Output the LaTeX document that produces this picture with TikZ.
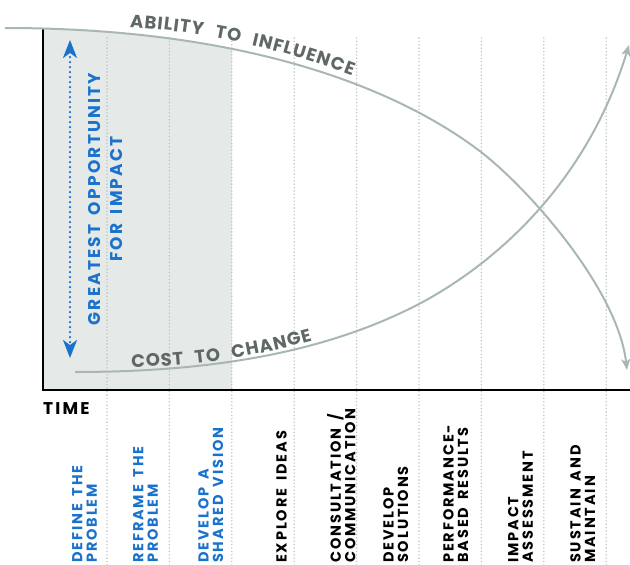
\documentclass[tikz,border=0pt]{standalone}
\usepackage{fontspec}
\setmainfont{Poppins}[LetterSpace=13,WordSpace=1.6]
\usetikzlibrary{positioning,arrows.meta,decorations.text}
\definecolor{curvegray}{HTML}{A9B7B3}
\definecolor{labelgray}{HTML}{5E6866}
\definecolor{impactblue}{HTML}{1A72CC}
\definecolor{shadegray}{HTML}{E5E9E8}
\definecolor{gridgray}{HTML}{BCC2C1}

\begin{document}
\begin{tikzpicture}[x=1pt,y=-1pt,>={Stealth[length=11pt,width=9pt,inset=3pt]},
	curve/.style={curvegray,line width=2pt},
	curvelabel/.style={decorate,decoration={text effects along path,text={#1},raise=4pt,
		text effects/.cd,
		characters={text along path,font=\bfseries\fontsize{18}{18}\selectfont,text=labelgray,inner xsep=0.5pt},
		character widths={font=\bfseries\fontsize{18}{18}\selectfont,inner xsep=0.5pt}}},
	grid/.style={gridgray,line width=1.6pt,dash pattern=on 0pt off 3.4pt,line cap=round},
	stage/.style={rotate=90,anchor=north west,align=left,inner sep=0pt,
		font=\bfseries\fontsize{14.5}{14.5}\selectfont}]
	\useasboundingbox (0,0) rectangle (630,565);

	\coordinate (A0) at (5,28);
	\coordinate (A1) at (481,152);
	\coordinate (A2) at (627,370);
	\coordinate (C0) at (75,372);
	\coordinate (C1) at (419,304);
	\coordinate (C2) at (629,45);

	% shaded region under the influence curve
	\begin{scope}
		\clip (A0) .. controls (250,28) and (400,90) .. (A1) -- (481,565) -- (5,565) -- cycle;
		\fill[shadegray] (43,20) rectangle (232,390);
	\end{scope}

	\foreach \x in {0,1,...,8}
		\draw[grid] (107+62.4*\x,38) -- (107+62.4*\x,565);

	% axes
	\draw[line width=2pt] (43,28) -- (43,390) -- (630,390);

	% curves
	\draw[curve,->] (A0) .. controls (250,28) and (400,90) .. (A1)
		.. controls (530,190) and (618,290) .. (A2);
	\draw[curve,->] (C0) .. controls (200,372) and (319,356) .. (C1)
		.. controls (489,267) and (585,189) .. (C2);

	\path[curvelabel=ABILITY TO INFLUENCE] (129,31) .. controls (240,38) and (340,70) .. (420,110);
	\path[curvelabel=COST TO CHANGE] (131,371) .. controls (220,371) and (300,350) .. (360,330);

	% greatest opportunity
	\draw[impactblue,line width=2.5pt,dash pattern=on 0pt off 5pt,line cap=round,
		{Stealth[length=18pt,width=14pt,inset=5pt]}-{Stealth[length=18pt,width=14pt,inset=5pt]}] (70,40) -- (70,358);
	\node[rotate=90,align=center,inner sep=0pt,impactblue,font=\bfseries\fontsize{17}{22}\selectfont] (opp) at (106,199) {GREATEST OPPORTUNITY\\FOR IMPACT};

	\node[anchor=north west,inner sep=0pt,font=\bfseries\fontsize{17}{18}\selectfont] (time) at (43,402) {TIME};

	% stages
	\node[stage,impactblue] (S1) at (72,563) {DEFINE THE\\PROBLEM};
	\node[stage,impactblue] (S2) at (133,563) {REFRAME THE\\PROBLEM};
	\node[stage,impactblue] (S3) at (198,563) {DEVELOP A\\SHARED VISION};
	\node[stage] (S4) at (276,563) {EXPLORE IDEAS};
	\node[stage] (S5) at (327,563) {CONSULTATION /\\COMMUNICATION};
	\node[stage] (S6) at (383,563) {DEVELOP\\SOLUTIONS};
	\node[stage] (S7) at (443,563) {PERFORMANCE-\\BASED RESULTS};
	\node[stage] (S8) at (508,563) {IMPACT\\ASSESSMENT};
	\node[stage] (S9) at (570,563) {SUSTAIN AND\\MAINTAIN};
\end{tikzpicture}
\end{document}
